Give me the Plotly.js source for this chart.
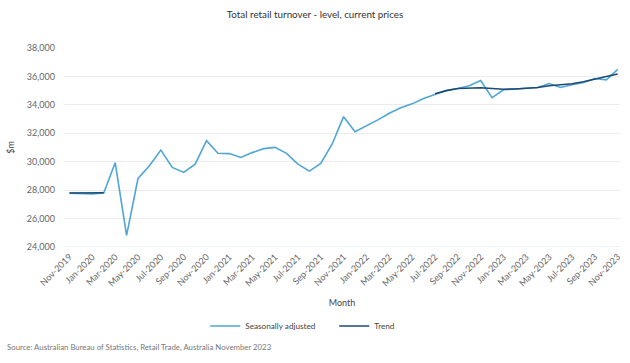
<!DOCTYPE html>
<html>
<head>
<meta charset="utf-8">
<script src="https://cdn.plot.ly/plotly-3.0.1.min.js"></script>
<style>html,body{margin:0;padding:0;background:#fff;}#chart{width:630px;height:363px;}</style>
</head>
<body>
<div id="chart"></div>
<script>
// Months Nov-2019 .. Nov-2023
const months = ["Nov-2019","Dec-2019","Jan-2020","Feb-2020","Mar-2020","Apr-2020","May-2020","Jun-2020","Jul-2020","Aug-2020","Sep-2020","Oct-2020",
"Nov-2020","Dec-2020","Jan-2021","Feb-2021","Mar-2021","Apr-2021","May-2021","Jun-2021","Jul-2021","Aug-2021","Sep-2021","Oct-2021",
"Nov-2021","Dec-2021","Jan-2022","Feb-2022","Mar-2022","Apr-2022","May-2022","Jun-2022","Jul-2022","Aug-2022","Sep-2022","Oct-2022",
"Nov-2022","Dec-2022","Jan-2023","Feb-2023","Mar-2023","Apr-2023","May-2023","Jun-2023","Jul-2023","Aug-2023","Sep-2023","Oct-2023","Nov-2023"];

const seasonallyAdjusted = [27790,27770,27740,27800,29930,24820,28820,29710,30820,29600,29250,29830,
31480,30590,30570,30300,30640,30920,31010,30590,29830,29340,29880,31250,
33170,32110,32510,32940,33410,33790,34070,34440,34730,35010,35150,35340,
35710,34500,35060,35130,35200,35220,35500,35220,35410,35570,35850,35760,36490];

const trend = [27800,27800,27790,27820,null,null,null,null,null,null,null,null,
null,null,null,null,null,null,null,null,null,null,null,null,
null,null,null,null,null,null,null,null,34775,35000,35150,35200,
35200,35150,35100,35120,35170,35220,35340,35390,35480,35620,35830,36000,36165];

const yTicks = [24000,26000,28000,30000,32000,34000,36000,38000];

const idx = months.map((m,i)=>i);
const tickIdx = idx.filter(i => i % 2 === 0);
const tickText = tickIdx.map(i => months[i]);

const font = "Lato, 'Open Sans', sans-serif";

const data = [
  {x: idx, y: seasonallyAdjusted, type:'scatter', mode:'lines', name:'Seasonally adjusted',
   line:{color:'#4ea5d6', width:1.6}, text: months, hoverinfo:'text+y'},
  {x: idx, y: trend, type:'scatter', mode:'lines', name:'Trend',
   line:{color:'#1b4b73', width:1.6}, connectgaps:false, text: months, hoverinfo:'text+y'}
];

const layout = {
  width:630, height:363,
  margin:{l:64, r:10, t:48, b:116, autoexpand:false},
  paper_bgcolor:'#fff', plot_bgcolor:'#fff',
  font:{family:font, color:'#555', size:9},
  title:{text:'Total retail turnover - level, current prices', x:0.5, xref:'container', y:0.961, yref:'container', yanchor:'middle',
         font:{family:font, size:9.8, color:'#333'}},
  xaxis:{
    range:[-0.48, 48.2], automargin:false,
    tickvals: tickIdx, ticktext: tickText, tickangle:-45,
    tickfont:{size:9, color:'#666'},
    showgrid:false, zeroline:false, showline:false, ticks:'',
    ticklabelstandoff:2,
    title:{text:'Month', font:{size:9, color:'#444'}, standoff:12}
  },
  yaxis:{
    range:[24000, 38000], automargin:false,
    tickvals: yTicks, tickformat:',d',
    tickfont:{size:9, color:'#666'},
    gridcolor:'#ececec', gridwidth:1, zeroline:false, showline:false, ticks:'',
    ticklabelstandoff:8,
    title:{text:'$m', font:{size:9, color:'#444'}, standoff:10}
  },
  showlegend:true,
  legend:{orientation:'h', x:0.254, xanchor:'left', y:-0.397, yanchor:'middle',
          font:{size:8.2, color:'#444'}, entrywidth:84, entrywidthmode:'pixels', itemwidth:30},
  annotations:[{text:'Source: Australian Bureau of Statistics, Retail Trade, Australia November 2023',
    xref:'paper', yref:'paper', x:-0.106, y:-0.503, xanchor:'left', yanchor:'middle', showarrow:false,
    font:{size:7.8, color:'#777'}}],
  shapes:[{type:'line', xref:'paper', yref:'y', x0:0, x1:1, y0:24000, y1:24000, line:{color:'#dbe4ee', width:1}}]
};

Plotly.newPlot('chart', data, layout, {displayModeBar:false, staticPlot:true});
</script>
</body>
</html>
